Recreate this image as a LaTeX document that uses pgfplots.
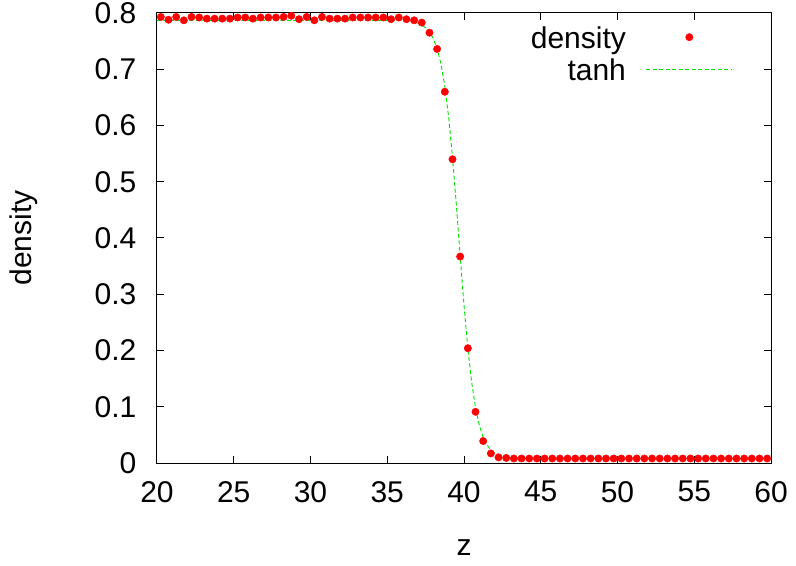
\documentclass[border=0pt]{standalone}
\usepackage{pgfplots}
\pgfplotsset{compat=1.18}
\usepackage{pgfplotstable}
\usepackage{fontspec}
\setmainfont{Liberation Sans}

\definecolor{gpred}{rgb}{1,0,0}
\definecolor{gpgreen}{rgb}{0,0.88,0}

\pgfplotsset{
  dotlegend/.style={legend image code/.code={\draw[mark repeat=2, mark phase=2, ##1] plot coordinates {(0bp,3bp) (43bp,3bp) (86bp,3bp)};}},
  linelegend/.style={legend image code/.code={\draw[##1] (0bp,3bp) -- (86bp,3bp);}},
}

% density profile, bin centres every 0.5
\pgfplotstableread{
z rho
20.25 0.793
20.75 0.788
21.25 0.793
21.75 0.787
22.25 0.793
22.75 0.792
23.25 0.790
23.75 0.790
24.25 0.790
24.75 0.790
25.25 0.792
25.75 0.792
26.25 0.790
26.75 0.792
27.25 0.792
27.75 0.792
28.25 0.793
28.75 0.795
29.25 0.789
29.75 0.793
30.25 0.787
30.75 0.793
31.25 0.790
31.75 0.790
32.25 0.790
32.75 0.792
33.25 0.792
33.75 0.792
34.25 0.792
34.75 0.792
35.25 0.789
35.75 0.792
36.25 0.789
36.75 0.787
37.25 0.783
37.75 0.765
38.25 0.736
38.75 0.660
39.25 0.540
39.75 0.367
40.25 0.204
40.75 0.091
41.25 0.039
41.75 0.017
42.25 0.010
42.75 0.009
43.25 0.008
43.75 0.008
44.25 0.008
44.75 0.008
45.25 0.008
45.75 0.008
46.25 0.008
46.75 0.008
47.25 0.008
47.75 0.008
48.25 0.008
48.75 0.008
49.25 0.008
49.75 0.008
50.25 0.008
50.75 0.008
51.25 0.008
51.75 0.008
52.25 0.008
52.75 0.008
53.25 0.008
53.75 0.008
54.25 0.008
54.75 0.008
55.25 0.008
55.75 0.008
56.25 0.008
56.75 0.008
57.25 0.008
57.75 0.008
58.25 0.008
58.75 0.008
59.25 0.008
59.75 0.008
}\densdata

% fitted tanh profile
\pgfplotstableread{
z rho
20 0.787
30 0.787
34 0.787
35 0.7869
36 0.7862
36.5 0.7850
37 0.7819
37.5 0.7741
37.75 0.7664
38 0.7547
38.25 0.7365
38.5 0.7093
38.75 0.6699
39 0.6148
39.25 0.5438
39.5 0.4593
39.75 0.3683
40 0.2805
40.25 0.2040
40.5 0.1432
40.75 0.0985
41 0.0671
41.25 0.0460
41.5 0.0322
41.75 0.0233
42 0.0176
42.5 0.0118
43 0.0095
44 0.0082
45 0.0080
60 0.0080
}\tanhdata

\begin{document}
\begin{tikzpicture}[font=\fontsize{30bp}{36bp}\selectfont]
\begin{axis}[
  at={(0,0)}, anchor=south west,
  scale only axis, width=614bp, height=450bp,
  xmin=20, xmax=60, ymin=0, ymax=0.8,
  xtick={20,25,...,60},
  ytick={0,0.1,...,0.8},
  yticklabel style={/pgf/number format/fixed, /pgf/number format/precision=1},
  /pgf/number format/assume math mode=true,
  tick align=inside, major tick length=7bp,
  axis line style={line width=1bp}, every tick/.style={black, line width=1bp},
  xticklabel style={inner sep=0pt, yshift=-18bp},
  yticklabel style={inner sep=0pt, xshift=-20.5bp},
  every axis x label/.style={at={(axis description cs:0.5,0)}, anchor=base, yshift=-92bp, inner sep=0pt},
  every axis y label/.style={at={(axis description cs:0,0.5)}, xshift=-125bp, rotate=90, anchor=base, inner sep=0pt},
  xlabel={z}, ylabel={density},
  legend plot pos=right, legend cell align=right,
  legend style={draw=none, fill=none, at={(rel axis cs:1,1)}, anchor=north east,
    xshift=-38bp, yshift=-13bp, inner sep=0pt, column sep=20bp, row sep=4bp,
    nodes={inner sep=0pt, text height=22bp, text depth=6bp}},
]
\addplot[only marks, mark=*, mark size=3.7bp, color=gpred, mark options={draw=gpred, fill=gpred}, dotlegend]
  table[x=z, y=rho] {\densdata};
\addlegendentry{density}
\addplot[color=gpgreen, line width=0.9bp, dash pattern=on 4bp off 2.5bp, linelegend]
  table[x=z, y=rho] {\tanhdata};
\addlegendentry{tanh}
\end{axis}
\pgfresetboundingbox
\useasboundingbox (-157bp,-103bp) rectangle (639bp,463bp);
\end{tikzpicture}
\end{document}
